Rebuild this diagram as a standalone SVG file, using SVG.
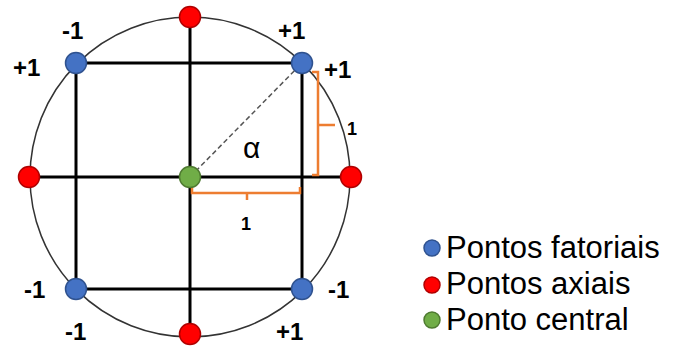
<svg xmlns="http://www.w3.org/2000/svg" width="691" height="346" viewBox="0 0 691 346">
<style>
.grid{stroke:#000;stroke-width:3;fill:none}
.br{stroke:#ED7D31;stroke-width:2.5;fill:none}
.fact{fill:#4472C4;stroke:#2F528F;stroke-width:1.5}
.axial{fill:#FF0000;stroke:#B00000;stroke-width:1.5}
.center{fill:#70AD47;stroke:#4E7A30;stroke-width:1.5}
.lbl{font-family:"Liberation Sans",Arial,sans-serif;font-weight:bold;font-size:24px;fill:#000}
.small{font-family:"Liberation Sans",Arial,sans-serif;font-weight:bold;font-size:18px;fill:#000}
.leg{font-family:"Liberation Sans",Arial,sans-serif;font-size:31px;fill:#000}
</style>
<rect width="691" height="346" fill="#fff"/>
<g id="connectors">
<circle cx="190" cy="177" r="160" fill="none" stroke="#333" stroke-width="1.5"/>
<line class="grid" x1="76" y1="63" x2="302" y2="63"/>
<line class="grid" x1="76" y1="289" x2="302" y2="289"/>
<line class="grid" x1="29" y1="177" x2="351" y2="177"/>
<line class="grid" x1="76" y1="63" x2="76" y2="289"/>
<line class="grid" x1="302" y1="63" x2="302" y2="289"/>
<line class="grid" x1="190" y1="17" x2="190" y2="337"/>
<line x1="190" y1="177" x2="302" y2="63" stroke="#555" stroke-width="1.5" stroke-dasharray="5,3"/>
<path class="br" d="M192,187 V193 H300 V187 M247,193 V200"/>
<path class="br" d="M312,72 H318 V175 H312 M318,125 H335"/>
</g>
<g id="n-top"><circle class="axial" cx="190" cy="17" r="10.5"/></g>
<g id="n-bottom"><circle class="axial" cx="190" cy="334" r="10.5"/></g>
<g id="n-left"><circle class="axial" cx="29" cy="177" r="10.5"/></g>
<g id="n-right"><circle class="axial" cx="351" cy="177" r="10.5"/></g>
<g id="n-tl"><circle class="fact" cx="76" cy="63" r="10.5"/></g>
<g id="n-tr"><circle class="fact" cx="302" cy="63" r="10.5"/></g>
<g id="n-bl"><circle class="fact" cx="76" cy="289" r="10.5"/></g>
<g id="n-br"><circle class="fact" cx="302" cy="289" r="10.5"/></g>
<g id="n-center"><circle class="center" cx="190" cy="177" r="10.5"/></g>
<g id="labels">
<text class="lbl" x="62" y="39">-1</text>
<text class="lbl" x="13" y="76">+1</text>
<text class="lbl" x="278" y="39">+1</text>
<text class="lbl" x="324" y="78">+1</text>
<text class="lbl" x="24" y="298">-1</text>
<text class="lbl" x="65" y="340">-1</text>
<text class="lbl" x="276" y="340">+1</text>
<text class="lbl" x="328" y="298">-1</text>
<text class="small" x="241" y="230">1</text>
<text class="small" x="347" y="135">1</text>
<text x="243" y="158" font-family="'Liberation Sans',Arial,sans-serif" font-size="30" fill="#000">α</text>
</g>
<g id="legend">
<circle class="fact" cx="432" cy="248" r="8"/>
<text class="leg" x="446" y="258">Pontos fatoriais</text>
<circle class="axial" cx="432" cy="285" r="8"/>
<text class="leg" x="446" y="294">Pontos axiais</text>
<circle class="center" cx="432" cy="320" r="8"/>
<text class="leg" x="446" y="330">Ponto central</text>
</g>
</svg>
